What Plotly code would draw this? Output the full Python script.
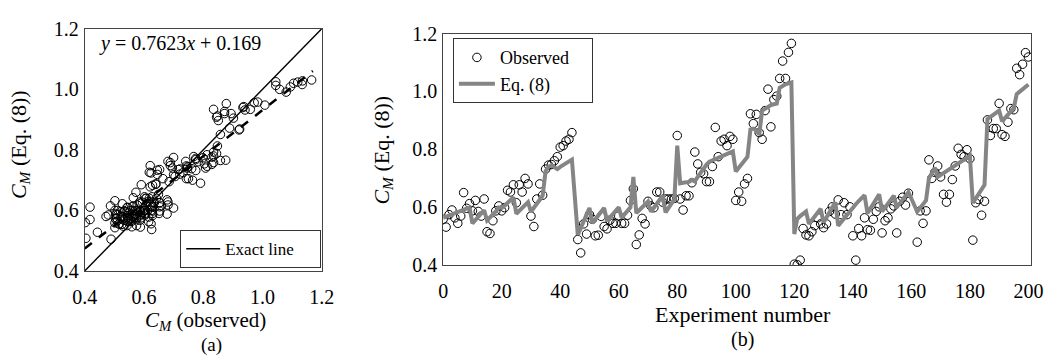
import plotly.graph_objects as go

# ---------------- data ----------------
experiment_no = list(range(0, 45)) + list(range(46, 160)) + list(range(162, 201))

observed = [
    0.559, 0.532, 0.575, 0.591, 0.564, 0.545, 0.570, 0.651, 0.597, 0.613,
    0.588, 0.624, 0.586, 0.570, 0.629, 0.516, 0.510, 0.554, 0.588, 0.605,
    0.588, 0.599, 0.659, 0.653, 0.678, 0.616, 0.678, 0.653, 0.700, 0.681,
    0.570, 0.534, 0.629, 0.681, 0.642, 0.732, 0.746, 0.748, 0.761, 0.775,
    0.808, 0.813, 0.829, 0.835, 0.858,
    0.489, 0.443, 0.543, 0.508, 0.575, 0.559, 0.502, 0.504, 0.569, 0.534,
    0.526, 0.556, 0.545, 0.545, 0.570, 0.545, 0.545, 0.573, 0.624, 0.664,
    0.472, 0.505, 0.562, 0.543, 0.621, 0.605, 0.599, 0.653, 0.653, 0.618,
    0.629, 0.629, 0.629, 0.631, 0.848, 0.629, 0.591, 0.640, 0.640, 0.685,
    0.791, 0.750, 0.721, 0.716, 0.689, 0.689, 0.741, 0.876, 0.775, 0.829,
    0.835, 0.813, 0.845, 0.835, 0.624, 0.653, 0.621, 0.681, 0.700, 0.923,
    0.889, 0.921, 0.858, 0.835, 0.934, 1.008, 0.878, 0.972, 0.984, 1.045,
    1.105, 1.045, 1.135, 1.166, 0.404, 0.402, 0.418, 0.527, 0.505, 0.502,
    0.516, 0.537, 0.564, 0.543, 0.530, 0.543, 0.586, 0.602, 0.577, 0.626,
    0.575, 0.616, 0.575, 0.602, 0.502, 0.418, 0.527, 0.502, 0.564, 0.523,
    0.521, 0.559, 0.586, 0.602, 0.512, 0.554, 0.564, 0.595, 0.605, 0.512,
    0.621, 0.635, 0.608, 0.649,
    0.480, 0.588, 0.545, 0.588, 0.764, 0.700,
    0.721, 0.743, 0.705, 0.645, 0.618, 0.645, 0.696, 0.743, 0.804, 0.783,
    0.775, 0.799, 0.768, 0.487, 0.616, 0.627, 0.573, 0.621, 0.902, 0.848,
    0.872, 0.872, 0.959, 0.851, 0.845, 0.894, 0.941, 0.937, 1.080, 1.058,
    1.094, 1.134, 1.119,
]

eq8 = [
    # 0-44
    0.564, 0.568, 0.572, 0.576, 0.580, 0.583, 0.586, 0.590, 0.594, 0.600,
    0.545, 0.556, 0.567, 0.578, 0.590,
    0.555, 0.565, 0.575, 0.586, 0.600,
    0.598, 0.606, 0.615, 0.625, 0.635,
    0.578, 0.588, 0.598, 0.608, 0.618,
    0.585, 0.598, 0.612, 0.628, 0.640,
    0.725, 0.740, 0.745, 0.738, 0.732,
    0.740, 0.746, 0.752, 0.758, 0.765,
    # 46-85
    0.505, 0.528, 0.550, 0.575, 0.598,
    0.546, 0.559, 0.572, 0.585, 0.598,
    0.554, 0.566, 0.578, 0.590, 0.600,
    0.564, 0.576, 0.588, 0.600, 0.705,
    0.580, 0.590, 0.600, 0.610, 0.620,
    0.585, 0.598, 0.612, 0.626, 0.640,
    0.583, 0.598, 0.613, 0.628, 0.813,
    0.683, 0.685, 0.686, 0.688, 0.695,
    # 86-159
    0.690, 0.705, 0.720, 0.735, 0.748,
    0.758, 0.762, 0.766, 0.772, 0.776,
    0.780, 0.784, 0.788, 0.793,
    0.724, 0.735, 0.748, 0.762, 0.775,
    0.869, 0.872, 0.866, 0.851,
    0.934, 0.940, 0.948, 0.953, 0.956, 0.958,
    1.013, 1.020, 1.025, 1.028, 1.031,
    0.508, 0.560, 0.570, 0.578, 0.586,
    0.543, 0.556, 0.568, 0.580, 0.595,
    0.548, 0.565, 0.582, 0.600, 0.618,
    0.537, 0.550, 0.563, 0.576, 0.590,
    0.600, 0.611, 0.622, 0.632, 0.642,
    0.580, 0.596, 0.612, 0.628, 0.645,
    0.586, 0.600, 0.614, 0.627, 0.640,
    0.600, 0.613, 0.626, 0.640, 0.653,
    # 162-200
    0.585, 0.598, 0.610, 0.624,
    0.700, 0.718, 0.737, 0.705,
    0.712, 0.719, 0.726, 0.733, 0.740, 0.747, 0.754, 0.761, 0.768, 0.774, 0.778,
    0.615, 0.630, 0.645, 0.660, 0.678,
    0.905, 0.912, 0.920, 0.927, 0.934,
    0.897, 0.908, 0.920, 0.932, 0.943,
    0.991, 1.000, 1.008, 1.016, 1.024,
]

fit_slope = 0.7623
fit_intercept = 0.169
fit_x = [0.40, 1.17]
exact_x = [0.4, 1.2]

axis_ticks = [0.4, 0.6, 0.8, 1.0, 1.2]
exp_ticks = [0, 20, 40, 60, 80, 100, 120, 140, 160, 180, 200]

# ---------------- figure ----------------
W, H = 1058, 358
FONT = "Liberation Serif, Times New Roman, serif"
PAD = "\u00a0"


def px_x(p):
    return p / W


def px_y(p):
    return 1 - p / H


fig = go.Figure()

# (a) scatter: observed vs Eq. (8)
fig.add_trace(go.Scatter(
    x=observed, y=eq8, mode="markers", xaxis="x", yaxis="y",
    marker=dict(symbol="circle-open", size=8.5, color="black", line=dict(width=1)),
    showlegend=False, hoverinfo="skip"))
fig.add_trace(go.Scatter(
    x=exact_x, y=exact_x, mode="lines", xaxis="x", yaxis="y",
    line=dict(color="black", width=1.4), name="Exact line" + PAD * 5, legend="legend2"))
fig.add_trace(go.Scatter(
    x=fit_x, y=[fit_slope * v + fit_intercept for v in fit_x], mode="lines",
    xaxis="x", yaxis="y", line=dict(color="black", width=2.5, dash="dash"),
    showlegend=False))

# (b) series
fig.add_trace(go.Scatter(
    x=experiment_no, y=observed, mode="markers", xaxis="x2", yaxis="y2",
    marker=dict(symbol="circle-open", size=8.5, color="black", line=dict(width=1)),
    name="Observed" + PAD * 4, legend="legend"))
fig.add_trace(go.Scatter(
    x=experiment_no, y=eq8, mode="lines", xaxis="x2", yaxis="y2",
    line=dict(color="#858585", width=4), name="Eq. (8)", legend="legend"))

tickfont = dict(family=FONT, size=20, color="black")
base = dict(showline=True, mirror=True, linecolor="#444", linewidth=1,
            showgrid=False, zeroline=False, tickfont=tickfont)
xbase = dict(base, ticks="outside", ticklen=8, tickcolor="rgba(0,0,0,0)")
ybase = dict(base, ticks="outside", ticklen=1, tickcolor="rgba(0,0,0,0)")

fig.update_layout(
    width=W, height=H, margin=dict(l=0, r=0, t=0, b=0),
    paper_bgcolor="white", plot_bgcolor="white",
    font=dict(family=FONT, color="black"),
    xaxis=dict(domain=[px_x(73.5), px_x(316.5)], range=[0.4, 1.2], anchor="y",
               tickvals=axis_ticks, tickformat=".1f", **xbase),
    yaxis=dict(domain=[px_y(277), px_y(19)], range=[0.4, 1.2], anchor="x",
               tickvals=axis_ticks, tickformat=".1f", **ybase),
    xaxis2=dict(domain=[px_x(441), px_x(1044)], range=[0, 201], anchor="y2",
                tickvals=exp_ticks, **xbase),
    yaxis2=dict(domain=[px_y(271), px_y(24)], range=[0.4, 1.2], anchor="x2",
                tickvals=axis_ticks, tickformat=".1f", **ybase),
    legend=dict(x=px_x(451), y=px_y(29), xanchor="left", yanchor="top",
                bgcolor="white", bordercolor="#333", borderwidth=1,
                font=dict(family=FONT, size=18, color="black"),
                tracegroupgap=0, itemwidth=36),
    legend2=dict(x=px_x(316), y=px_y(274), xanchor="right", yanchor="bottom",
                 bgcolor="white", bordercolor="#333", borderwidth=1,
                 font=dict(family=FONT, size=17, color="black"), itemwidth=34),
)

ann = [
    dict(text="<i>y</i> = 0.7623<i>x</i> + 0.169", x=px_x(171), y=px_y(35), size=20, angle=0),
    dict(text="<i>C</i><sub><i>M</i></sub> (observed)", x=px_x(197), y=px_y(330), size=21, angle=0),
    dict(text="<i>C</i><sub><i>M</i></sub> (Eq. (8))", x=px_x(7), y=px_y(142), size=22, angle=-90),
    dict(text="(a)", x=px_x(204), y=px_y(356), size=19, angle=0),
    dict(text="<i>C</i><sub><i>M</i></sub> (Eq. (8))", x=px_x(379), y=px_y(148), size=22, angle=-90),
    dict(text="Experiment number", x=px_x(748), y=px_y(323), size=22, angle=0),
    dict(text="(b)", x=px_x(748), y=px_y(350), size=20, angle=0),
]
for a in ann:
    fig.add_annotation(text=a["text"], x=a["x"], y=a["y"], xref="paper", yref="paper",
                       xanchor="center", yanchor="middle", showarrow=False,
                       textangle=a["angle"],
                       font=dict(family=FONT, size=a["size"], color="black"))

fig.write_html("out.html")
